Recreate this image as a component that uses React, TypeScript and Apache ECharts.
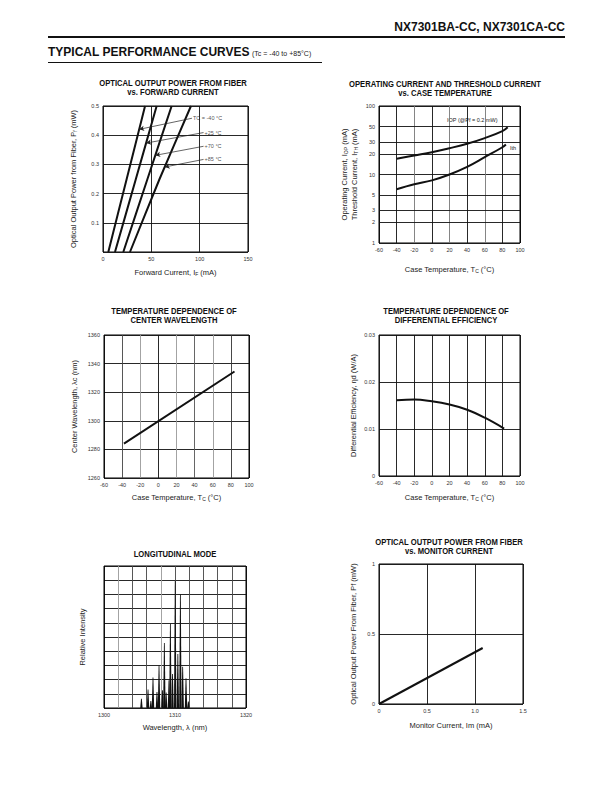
import React, { useEffect, useRef } from 'react';
import * as echarts from 'echarts';

// ---------- Chart 1: Optical output power vs forward current ----------
const pfLevels = [0, 0.25, 0.5];
const ifM40 = [5.5, 24.5, 43.5];
const ifP25 = [12.4, 34, 55.5];
const ifP70 = [21, 46, 71];
const ifP85 = [27.9, 58.5, 91];
const tempLabels = ['TC = -40 °C', '+25 °C', '+70 °C', '+85 °C'];
const arrowStartIF = [92, 104, 104, 104];
const arrowStartPf = [0.458, 0.409, 0.362, 0.317];
const arrowEndIF = [37.4, 44.6, 54.1, 63.8];
const arrowEndPf = [0.42, 0.373, 0.331, 0.291];

// ---------- Chart 2: Operating / threshold current vs case temperature ----------
const iopTemp = [-40, -20, 0, 20, 40, 60, 80, 86];
const iopVal = [17, 19, 21.2, 24.2, 28.1, 34, 43, 49];
const ithTemp = [-40, -20, 0, 20, 40, 60, 80, 84];
const ithVal = [6.1, 7.2, 8.2, 10, 12.9, 17.9, 25, 27.5];
const logGridValues = [2, 3, 5, 20, 30, 50];

// ---------- Chart 3: Center wavelength vs temperature ----------
const cwTemp = [-38, 84];
const cwVal = [1284, 1334.5];

// ---------- Chart 4: Differential efficiency vs temperature ----------
const deTemp = [-40, -20, 0, 20, 40, 60, 82];
const deVal = [0.0161, 0.0163, 0.0159, 0.0152, 0.0141, 0.0124, 0.0101];

// ---------- Chart 5: Longitudinal mode ----------
const modeLambda = [1305.27, 1306.2, 1306.6, 1306.9, 1307.46, 1307.75, 1308.23, 1308.5, 1308.75, 1309.15, 1309.35, 1309.65, 1310.03, 1310.4, 1310.76, 1311.08, 1311.55, 1311.88];
const modeIntensity = [0.66, 1.3, 0.5, 2.15, 1.13, 3.0, 1.25, 4.57, 1.1, 1.95, 5.94, 2.4, 8.94, 3.8, 8.0, 2.9, 2.1, 0.45];

// ---------- Chart 6: Optical output power vs monitor current ----------
const imVal = [0, 1.08];
const pfmVal = [0, 0.4];

const FONT = '"Liberation Sans", Arial, Helvetica, sans-serif';

const zip = (a: number[], b: number[]) => a.map((v, i) => [v, b[i]]);

const tickLabel = { fontSize: 5.5, color: '#333', fontFamily: FONT, margin: 4 };
const subRich = {
  s: { fontSize: 5, fontFamily: FONT, color: '#222', padding: [3, 0, 0, 0] },
};
const nameStyle = { fontSize: 7.5, color: '#222', fontFamily: FONT, rich: subRich };
const split = (color: any = '#111') => ({ show: true, lineStyle: { color, width: 0.9 } });

function xAxis(gi: number, o: any) {
  return {
    gridIndex: gi,
    type: 'value',
    nameLocation: 'middle',
    nameTextStyle: nameStyle,
    axisLine: { show: false },
    axisTick: { show: false },
    axisLabel: { ...tickLabel },
    splitLine: split(),
    ...o,
  };
}
function yAxis(gi: number, o: any) {
  return {
    gridIndex: gi,
    type: 'value',
    nameLocation: 'middle',
    nameRotate: 90,
    nameTextStyle: nameStyle,
    axisLine: { show: false },
    axisTick: { show: false },
    axisLabel: { ...tickLabel },
    splitLine: split(),
    ...o,
  };
}

const lineSeries = (xi: number, data: number[][], smooth: any = false, width = 2) => ({
  type: 'line',
  xAxisIndex: xi,
  yAxisIndex: xi,
  data,
  smooth,
  showSymbol: false,
  symbol: 'none',
  lineStyle: { color: '#111', width },
  silent: true,
});

const grids = [
  { left: 103, top: 106, width: 145, height: 146 },
  { left: 379, top: 106, width: 141, height: 137 },
  { left: 104, top: 335, width: 145, height: 143 },
  { left: 379, top: 335, width: 141, height: 141 },
  { left: 104, top: 566, width: 142, height: 142 },
  { left: 379, top: 564, width: 144, height: 140 },
].map((g) => ({ ...g, show: true, borderColor: '#000', borderWidth: 1, backgroundColor: 'transparent' }));

const titleText = (x: number, y: number, text: string) => ({
  type: 'text',
  x,
  y,
  scaleX: 0.85,
  style: { text, fontSize: 9, fontWeight: 'bold', fontFamily: FONT, fill: '#111', textAlign: 'center', textVerticalAlign: 'middle' },
});
const smallText = (x: number, y: number, text: string, size = 5.5) => ({
  type: 'text',
  x,
  y,
  style: { text, fontSize: size, fontFamily: FONT, fill: '#222', textAlign: 'left', textVerticalAlign: 'middle' },
});

const option: any = {
  animation: false,
  backgroundColor: '#fff',
  grid: grids,
  xAxis: [
    xAxis(0, { min: 0, max: 150, interval: 50, name: 'Forward Current, I{s|F} (mA)', nameGap: 16 }),
    xAxis(1, { min: -60, max: 100, interval: 20, name: 'Case Temperature, T{s|C} (°C)', nameGap: 22,
      splitLine: split(['#000', '#111', '#777', '#111', '#777', '#111', '#777', '#111', '#000']) }),
    xAxis(2, { min: -60, max: 100, interval: 20, name: 'Case Temperature, T{s|C} (°C)', nameGap: 15,
      splitLine: split(['#000', '#444', '#999', '#111', '#999', '#555', '#999', '#333', '#000']) }),
    xAxis(3, { min: -60, max: 100, interval: 20, name: 'Case Temperature, T{s|C} (°C)', nameGap: 17 }),
    xAxis(4, { min: 1300, max: 1320, interval: 2, name: 'Wavelength, λ (nm)', nameGap: 15,
      axisLabel: { ...tickLabel, formatter: (v: number) => (v % 10 === 0 ? String(v) : '') },
      splitLine: split(['#000', '#999', '#444', '#444', '#999', '#444', '#444', '#444', '#444', '#444', '#000']) }),
    xAxis(5, { min: 0, max: 1.5, interval: 0.5, name: 'Monitor Current, Im (mA)', nameGap: 17,
      axisLabel: { ...tickLabel, formatter: (v: number) => (v === 0 ? '0' : v.toFixed(1)) } }),
  ],
  yAxis: [
    yAxis(0, { min: 0, max: 0.5, interval: 0.1, name: 'Optical Output Power from Fiber, P{s|f} (mW)', nameGap: 26,
      axisLabel: { ...tickLabel, formatter: (v: number) => (v === 0 ? '' : v.toFixed(1)) } }),
    yAxis(1, { type: 'log', logBase: 10, min: 1, max: 100, name: 'Operating Current, I{s|OP} (mA)\nThreshold Current, I{s|TH} (mA)', nameGap: 20,
      nameTextStyle: { ...nameStyle, lineHeight: 10 }, splitLine: split(), minorSplitLine: { show: false } }),
    yAxis(2, { min: 1260, max: 1360, interval: 20, name: 'Center Wavelength, λc (nm)', nameGap: 26,
      axisLabel: { ...tickLabel, formatter: (v: number) => String(v) } }),
    yAxis(3, { min: 0, max: 0.03, interval: 0.01, name: 'Differential Efficiency, ηd (W/A)', nameGap: 22,
      axisLabel: { ...tickLabel, formatter: (v: number) => (v === 0 ? '0' : v.toFixed(2)) } }),
    yAxis(4, { min: 0, max: 10, interval: 1, name: 'Relative Intensity', nameGap: 18, axisLabel: { show: false } }),
    yAxis(5, { min: 0, max: 1, interval: 0.5, name: 'Optical Output Power From Fiber, Pf (mW)', nameGap: 22,
      axisLabel: { ...tickLabel, formatter: (v: number) => (v === 0 ? '0' : v === 1 ? '1' : String(v)) } }),
  ],
  series: [
    // chart 1
    lineSeries(0, zip(ifM40, pfLevels), 0.2),
    lineSeries(0, zip(ifP25, pfLevels), 0.2),
    lineSeries(0, zip(ifP70, pfLevels), 0.2),
    lineSeries(0, zip(ifP85, pfLevels), 0.2),
    {
      type: 'scatter',
      xAxisIndex: 0,
      yAxisIndex: 0,
      symbolSize: 0,
      silent: true,
      data: arrowStartIF.map((x, i) => ({ value: [x, arrowStartPf[i]], name: tempLabels[i] })),
      label: { show: true, position: 'right', distance: 1, formatter: (p: any) => p.name, fontSize: 5.5, fontFamily: FONT, color: '#222' },
      markLine: {
        silent: true,
        symbol: ['none', 'arrow'],
        symbolSize: [4, 5],
        label: { show: false },
        lineStyle: { color: '#222', width: 0.7, type: 'solid' },
        data: arrowStartIF.map((x, i) => [
          { coord: [x, arrowStartPf[i]] },
          { coord: [arrowEndIF[i], arrowEndPf[i]] },
        ]),
      },
    },
    // chart 2
    {
      ...lineSeries(1, zip(iopTemp, iopVal), 0.4),
      markLine: {
        silent: true,
        symbol: ['none', 'none'],
        lineStyle: { color: '#111', width: 0.9, type: 'solid' },
        label: { show: true, position: 'start', distance: 4, fontSize: 5.5, color: '#333', fontFamily: FONT, formatter: (p: any) => String(p.value) },
        data: logGridValues.map((v) => ({ yAxis: v })),
      },
    },
    lineSeries(1, zip(ithTemp, ithVal), 0.4),
    // chart 3
    lineSeries(2, zip(cwTemp, cwVal)),
    // chart 4
    lineSeries(3, zip(deTemp, deVal), 0.4),
    // chart 5
    {
      type: 'custom',
      xAxisIndex: 4,
      yAxisIndex: 4,
      silent: true,
      data: zip(modeLambda, modeIntensity),
      renderItem: (params: any, api: any) => {
        const top = api.coord([api.value(0), api.value(1)]);
        const base = api.coord([api.value(0), 0]);
        return {
          type: 'polygon',
          shape: {
            points: [
              [base[0] - 1.2, base[1]],
              [top[0] - 0.4, top[1]],
              [top[0] + 0.4, top[1]],
              [base[0] + 1.2, base[1]],
            ],
          },
          style: { fill: '#111' },
        };
      },
    },
    // chart 6
    lineSeries(5, zip(imVal, pfmVal), false, 2),
  ],
  graphic: [
    { type: 'text', x: 565, y: 27, style: { text: 'NX7301BA-CC, NX7301CA-CC', fontSize: 12, fontWeight: 'bold', fontFamily: FONT, fill: '#111', textAlign: 'right', textVerticalAlign: 'middle' } },
    { type: 'line', shape: { x1: 48, y1: 37, x2: 565, y2: 37 }, style: { stroke: '#111', lineWidth: 2 } },
    { type: 'text', x: 48, y: 52, style: { text: 'TYPICAL PERFORMANCE CURVES', fontSize: 12, fontWeight: 'bold', fontFamily: FONT, fill: '#111', textAlign: 'left', textVerticalAlign: 'middle' } },
    { type: 'text', x: 252, y: 53, style: { text: '(Tc = -40 to +85°C)', fontSize: 7, fontFamily: FONT, fill: '#222', textAlign: 'left', textVerticalAlign: 'middle' } },
    { type: 'line', shape: { x1: 48, y1: 62.5, x2: 322, y2: 62.5 }, style: { stroke: '#111', lineWidth: 1 } },
    titleText(173, 83, 'OPTICAL OUTPUT POWER FROM FIBER'),
    titleText(173, 92, 'vs. FORWARD CURRENT'),
    titleText(445, 84, 'OPERATING CURRENT AND THRESHOLD CURRENT'),
    titleText(445, 93, 'vs. CASE TEMPERATURE'),
    titleText(174, 311, 'TEMPERATURE DEPENDENCE OF'),
    titleText(174, 320, 'CENTER WAVELENGTH'),
    titleText(446, 311, 'TEMPERATURE DEPENDENCE OF'),
    titleText(446, 320, 'DIFFERENTIAL EFFICIENCY'),
    titleText(175, 554, 'LONGITUDINAL MODE'),
    titleText(449, 542, 'OPTICAL OUTPUT POWER FROM FIBER'),
    titleText(449, 551, 'vs. MONITOR CURRENT'),
    smallText(447, 119.5, 'IOP (@Pf = 0.2 mW)', 5.5),
    smallText(510, 147.5, 'Ith', 5.5),
  ],
};

export default function App() {
  const ref = useRef<HTMLDivElement>(null);
  useEffect(() => {
    if (!ref.current) return;
    const chart = echarts.init(ref.current, null, { renderer: 'svg' });
    chart.setOption(option);
    return () => chart.dispose();
  }, []);
  return (
    <div
      ref={ref}
      style={{ position: 'absolute', left: 0, top: 0, width: 612, height: 792, background: '#fff' }}
    />
  );
}
